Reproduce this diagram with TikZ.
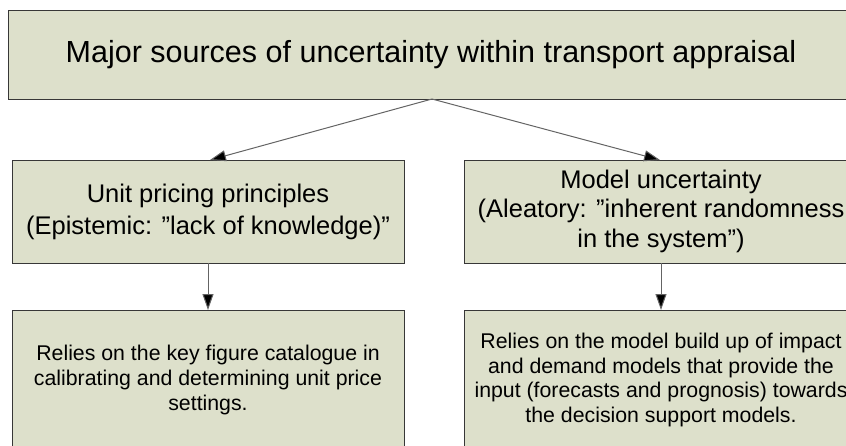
\documentclass[tikz,border=0pt]{standalone}
\usepackage{fontspec}
\setmainfont{Liberation Sans}
\usetikzlibrary{arrows.meta}
\definecolor{boxfill}{RGB}{221,224,203}
\definecolor{boxline}{RGB}{55,55,55}
\definecolor{connline}{RGB}{100,100,100}
\tikzset{
  box/.style={draw=boxline, fill=boxfill, line width=1pt},
  lbl/.style={align=center, inner sep=0pt},
  conn/.style={draw=connline, line width=1pt, -{Triangle[length=16pt,width=11pt,fill=black]}}
}
\begin{document}
\begin{tikzpicture}[x=1pt,y=-1pt]
\useasboundingbox (0,0) rectangle (846,445);
\clip (0,0) rectangle (846,445);
% boxes
\draw[box] (8,10) rectangle (856,99);
\node[lbl, font=\fontsize{30.5}{36}\selectfont] (top) at (431,55) {Major sources of uncertainty within transport appraisal};
\coordinate (tb) at (432,99);

\draw[box] (12,160) rectangle (404,263);
\node[lbl, font=\fontsize{25.5}{32}\selectfont] (ml) at (208,212) {Unit pricing principles\\(Epistemic: ”lack of knowledge)”};
\coordinate (mlt) at (210,160);
\coordinate (mlb) at (208,263);

\draw[box] (464,160) rectangle (858,263);
\node[lbl, font=\fontsize{25.5}{29.5}\selectfont] (mr) at (661,211) {Model uncertainty\\(Aleatory: ”inherent randomness\\in the system”)};
\coordinate (mrt) at (660,160);
\coordinate (mrb) at (661,263);

\draw[box] (12,310) rectangle (404,460);
\node[lbl, font=\fontsize{21.3}{24.6}\selectfont] (bl) at (208,380) {Relies on the key figure catalogue in\\calibrating and determining unit price\\settings.};
\coordinate (blt) at (208,310);

\draw[box] (464,310) rectangle (858,460);
\node[lbl, font=\fontsize{21.3}{24.6}\selectfont] (br) at (661,380) {Relies on the model build up of impact\\and demand models that provide the\\input (forecasts and prognosis) towards\\the decision support models.};
\coordinate (brt) at (661,310);

% connectors
\draw[conn] (tb) -- (mlt);
\draw[conn] (tb) -- (mrt);
\draw[conn] (mlb) -- (blt);
\draw[conn] (mrb) -- (brt);
\end{tikzpicture}
\end{document}
